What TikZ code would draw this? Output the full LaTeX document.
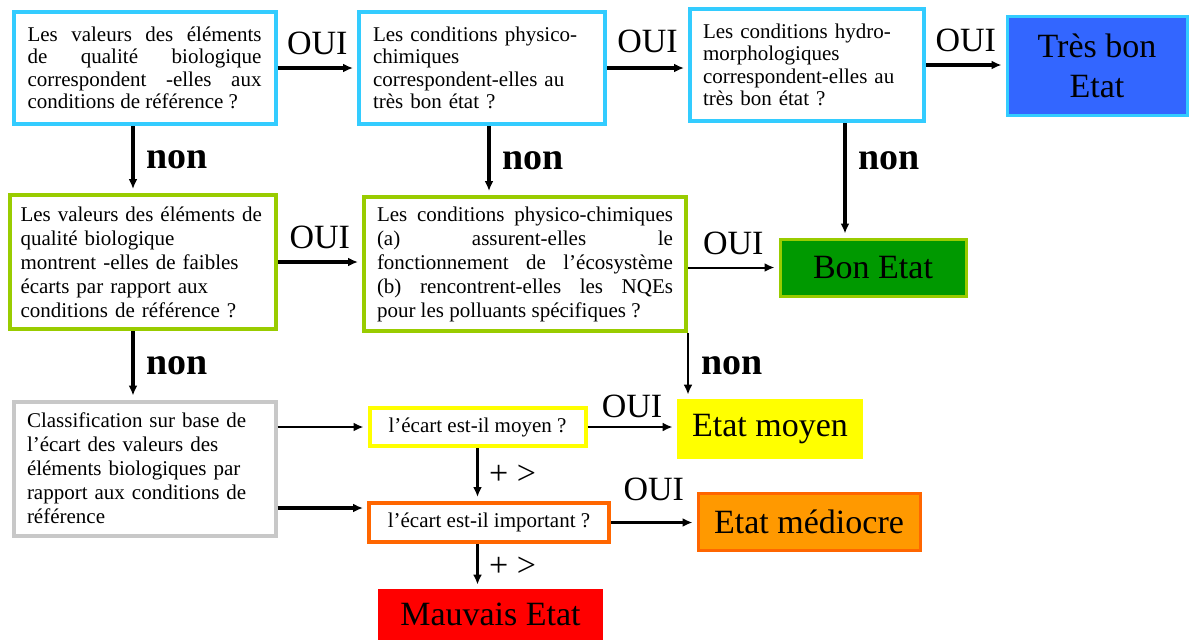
\documentclass[tikz,border=0pt]{standalone}
\usepackage{fontspec}
\setmainfont{Liberation Serif}
\usetikzlibrary{arrows.meta, positioning}
\definecolor{bordcyan}{RGB}{51,204,255}
\definecolor{bleuetat}{RGB}{51,102,255}
\definecolor{bordvert}{RGB}{153,204,0}
\definecolor{vertetat}{RGB}{0,153,0}
\definecolor{jauneetat}{RGB}{255,255,0}
\definecolor{orangeetat}{RGB}{255,153,0}
\definecolor{bordorange}{RGB}{255,102,0}
\definecolor{rougeetat}{RGB}{255,0,0}
\definecolor{bordgris}{RGB}{200,200,200}
\tikzset{
    boite/.style={draw, line width=2pt, fill=white, inner sep=0pt,
        font=\fontsize{10.5}{11.25}\selectfont},
    etat/.style={inner sep=0pt, font=\fontsize{17}{20}\selectfont, align=center},
    fleche/.style={line width=1.6pt, -{Latex[length=5pt,width=4.5pt]}, shorten >=2pt},
    flechefine/.style={line width=1pt, -{Latex[length=5pt,width=4.5pt]}, shorten >=2pt},
    oui/.style={font=\fontsize{17}{20}\selectfont, inner sep=1pt},
    non/.style={font=\fontsize{19}{22}\selectfont\bfseries, inner sep=0pt},
    plus/.style={font=\fontsize{17}{20}\selectfont, inner sep=0pt}
}
\begin{document}
\begin{tikzpicture}[x=0.5pt, y=-0.5pt]
    \useasboundingbox (0,0) rectangle (1190,639);
    % premiere ligne
    \node[boite, draw=bordcyan, minimum width=131pt, minimum height=56pt,
        text width=117pt, align=justify] (a1) at (144.5,68)
        {Les valeurs des éléments\linebreak de qualité biologique\linebreak
         correspondent -elles aux\linebreak conditions de référence ?};
    \node[boite, draw=bordcyan, minimum width=123pt, minimum height=56pt,
        text width=109pt, align=left] (a2) at (482,68)
        {Les conditions physico-\\chimiques\\correspondent-elles au\\très bon état ?};
    \node[boite, draw=bordcyan, minimum width=117pt, minimum height=56pt,
        text width=104pt, align=left] (a3) at (807,65)
        {Les conditions hydro-\\morphologiques\\correspondent-elles au\\très bon état ?};
    \node[etat, draw=bordcyan, line width=1.5pt, fill=bleuetat,
        minimum width=90pt, minimum height=49.5pt] (tbe) at (1097,65.5)
        {Très bon\\Etat};
    % deuxieme ligne
    \node[boite, draw=bordvert, minimum width=133pt, minimum height=67pt,
        text width=122pt, align=left, font=\fontsize{10.5}{12}\selectfont] (b1) at (142.5,262)
        {Les valeurs des éléments de\\qualité biologique\\montrent -elles de faibles\\
         écarts par rapport aux\\conditions de référence ?};
    \node[boite, draw=bordvert, minimum width=161pt, minimum height=67pt,
        text width=148pt, align=justify, font=\fontsize{10.5}{12}\selectfont] (b2) at (525,264)
        {Les conditions physico-chimiques\linebreak (a) assurent-elles le\linebreak
         fonctionnement de l'écosystème\linebreak (b) rencontrent-elles les NQEs\linebreak
         pour les polluants spécifiques ?};
    \node[etat, draw=bordvert, line width=1.5pt, fill=vertetat,
        minimum width=93pt, minimum height=28.5pt] (be) at (873,267.5) {Bon Etat};
    % troisieme ligne
    \node[boite, draw=bordgris, minimum width=131pt, minimum height=67pt,
        text width=117.5pt, align=left, font=\fontsize{10.5}{12}\selectfont] (c1) at (144.5,468.5)
        {Classification sur base de\\l'écart des valeurs des\\éléments biologiques par\\
         rapport aux conditions de\\référence};
    \node[boite, draw=jauneetat, minimum width=108pt, minimum height=19pt,
        align=center] (q1) at (477.5,427) {l'écart est-il moyen ?};
    \node[etat, fill=jauneetat, minimum width=93pt, minimum height=30pt] (em) at (770,429)
        {Etat moyen};
    \node[boite, draw=bordorange, minimum width=120pt, minimum height=19.5pt,
        align=center] (q2) at (489,522.5) {l'écart est-il important ?};
    \node[etat, draw=bordorange, line width=1.5pt, fill=orangeetat,
        minimum width=111pt, minimum height=28.5pt] (emed) at (809,521.5)
        {Etat médiocre};
    \node[etat, fill=rougeetat, minimum width=112.5pt, minimum height=25.5pt] (me)
        at (490.5,614.5) {Mauvais Etat};
    % fleches OUI
    \draw[fleche] (a1.east) -- (a2.west) node[midway, above=5pt, oui] {OUI};
    \draw[fleche] (a2.east) -- (a2.east -| a3.west) node[midway, above=6pt, oui] {OUI};
    \draw[fleche] (a3.east) -- (a3.east -| tbe.west) node[midway, above=5pt, oui] {OUI};
    \draw[fleche] (b1.east) -- (b1.east -| b2.west) node[midway, above=5pt, oui] {OUI};
    \draw[flechefine] (b2.east |- be.west) -- (be.west) node[midway, above=5pt, oui] {OUI};
    \draw[flechefine] (q1.east) -- (q1.east -| em.west) node[midway, above=3pt, oui] {OUI};
    \draw[fleche] (q2.east) -- (q2.east -| emed.west) node[midway, above=9pt, oui] {OUI};
    % fleches non
    \draw[fleche] ([xshift=-5.75pt]a1.south) -- ([xshift=-5.75pt]a1.south |- b1.north)
        node[midway, right=6pt, non] {non};
    \draw[fleche] ([xshift=3.5pt]a2.south) -- ([xshift=3.5pt]a2.south |- b2.north)
        node[midway, right=6pt, non] {non};
    \draw[fleche] ([xshift=19pt]a3.south) -- ([xshift=19pt]a3.south |- be.north)
        node[pos=0.33, right=6pt, non] {non};
    \draw[fleche] ([xshift=-4.75pt]b1.south) -- ([xshift=-4.75pt]b1.south |- c1.north)
        node[midway, right=6pt, non] {non};
    \draw[flechefine] (b2.south east) -- (b2.south east |- em.north)
        node[midway, right=6pt, non] {non};
    % classification
    \draw[flechefine] (c1.east |- q1.west) -- (q1.west);
    \draw[fleche] ([yshift=7.25pt]c1.east |- q2.west) -- ([yshift=7.25pt]q2.west);
    \draw[fleche] (q1.south) -- (q1.south |- q2.north) node[midway, right=5pt, plus] {+ >};
    \draw[fleche] (q1.south |- q2.south) -- (q1.south |- me.north)
        node[midway, right=5pt, plus] {+ >};
\end{tikzpicture}
\end{document}
